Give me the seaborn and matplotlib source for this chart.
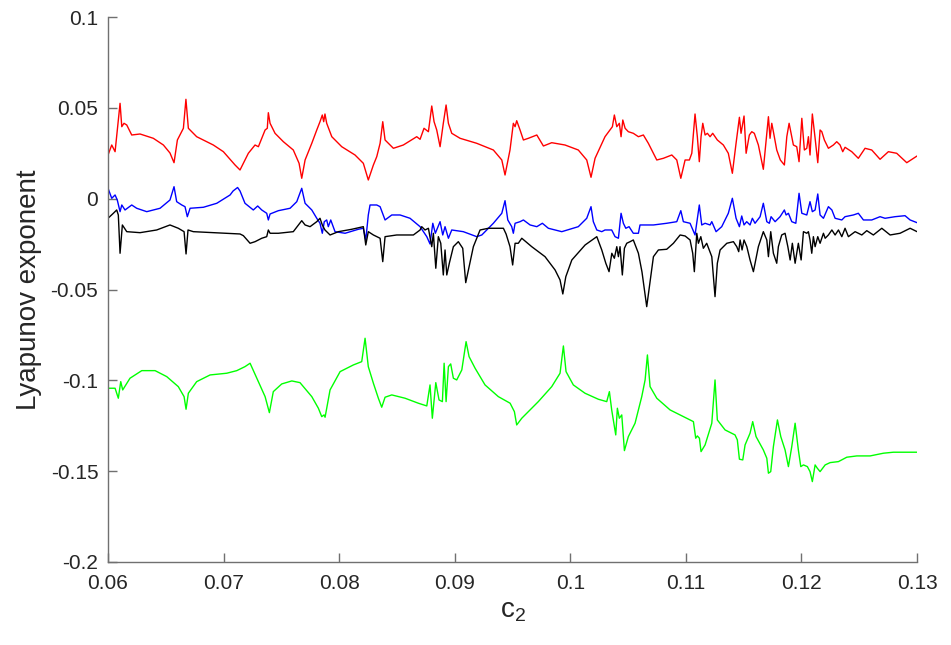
import numpy as np
import pandas as pd
import matplotlib
matplotlib.use("Agg")
import matplotlib.pyplot as plt
import seaborn as sns

# ---------------- data ----------------
red_x = [0.0600,0.06032,0.06061,0.06104,0.06119,0.06138,0.06162,0.06205,0.06277,0.06392,0.06479,0.06536,0.06571,0.06600,0.06652,0.06674,0.06695,0.06767,0.06911,0.06998,
         0.07099,0.07142,0.07214,0.07272,0.07301,0.07359,0.07378,0.07387,0.07402,0.07445,0.07517,0.07603,0.07653,0.07676,0.07705,0.07763,0.07806,0.07834,0.07854,0.07866,
         0.07877,0.07892,0.07936,0.08022,0.08137,0.08209,0.08252,0.08296,0.08325,0.08354,0.08377,0.08397,0.08469,0.08555,0.08671,0.08700,0.08734,0.08772,0.08801,0.08821,
         0.08844,0.08873,0.08901,0.08925,0.08945,0.08974,0.09046,0.09190,0.09334,0.09407,0.09435,0.09478,0.09507,0.09522,0.09536,0.09565,0.09594,0.09637,0.09710,0.09767,
         0.09839,0.09954,0.10069,0.10142,0.10179,0.10214,0.10300,0.10364,0.10381,0.10402,0.10424,0.10439,0.10454,0.10474,0.10502,0.10545,0.10589,0.10632,0.10675,0.10748,
         0.10805,0.10878,0.10921,0.10956,0.10993,0.11030,0.11051,0.11079,0.11099,0.11116,0.11131,0.11146,0.11166,0.11186,0.11209,0.11232,0.11272,0.11324,0.11367,0.11402,
         0.11434,0.11463,0.11477,0.11503,0.11521,0.11549,0.11570,0.11592,0.11627,0.11670,0.11694,0.11714,0.11728,0.11743,0.11757,0.11786,0.11817,0.11852,0.11873,0.11893,
         0.11910,0.11930,0.11959,0.11979,0.12003,0.12025,0.12046,0.12060,0.12074,0.12094,0.12118,0.12141,0.12161,0.12176,0.12198,0.12233,0.12276,0.12305,0.12334,0.12357,
         0.12377,0.12435,0.12492,0.12550,0.12608,0.12680,0.12752,0.12824,0.12911,0.13000]
red_y = [0.02405,0.02955,0.02587,0.05250,0.03963,0.04150,0.04056,0.03506,0.03561,0.03324,0.02955,0.02515,0.01981,0.03231,0.03875,0.05471,0.03875,0.03412,0.02955,0.02587,
         0.01855,0.01580,0.02499,0.02955,0.02862,0.03781,0.03875,0.04733,0.04150,0.03599,0.03137,0.02680,0.01948,0.01123,0.02130,0.03049,0.03781,0.04238,0.04606,0.04238,
         0.04662,0.04150,0.03412,0.02862,0.02405,0.01948,0.01029,0.01855,0.02312,0.03049,0.04238,0.03231,0.02774,0.02955,0.03412,0.03269,0.03875,0.03687,0.05102,0.04238,
         0.03781,0.02862,0.04150,0.05157,0.04150,0.03599,0.03324,0.03049,0.02680,0.02130,0.01304,0.02680,0.04150,0.03963,0.04293,0.03781,0.03231,0.03324,0.03506,0.02900,
         0.03082,0.02955,0.02680,0.02130,0.01178,0.02223,0.03412,0.03963,0.04606,0.03963,0.04150,0.03412,0.04331,0.03875,0.03687,0.03599,0.03412,0.03506,0.03049,0.02130,
         0.02223,0.02405,0.02130,0.01123,0.02130,0.02130,0.02499,0.04662,0.03412,0.02036,0.03412,0.04150,0.03506,0.03599,0.03412,0.03599,0.03231,0.02955,0.02499,0.01398,
         0.03049,0.04480,0.03599,0.04551,0.02499,0.03506,0.03687,0.03599,0.02955,0.01618,0.03231,0.04513,0.03324,0.04150,0.03687,0.02680,0.02130,0.01855,0.03412,0.04150,
         0.03599,0.02955,0.02862,0.02036,0.04425,0.02680,0.02774,0.03412,0.02405,0.04662,0.03324,0.01981,0.03781,0.03687,0.03231,0.02774,0.02955,0.03137,0.02955,0.02587,
         0.02829,0.02587,0.02223,0.02774,0.02680,0.02168,0.02587,0.02499,0.01981,0.02350]

blue_x = [0.0600,0.06032,0.06061,0.06080,0.06104,0.06119,0.06147,0.06205,0.06248,0.06335,0.06450,0.06536,0.06571,0.06594,0.06638,0.06666,0.06686,0.06710,0.06825,0.06941,
          0.07056,0.07082,0.07121,0.07142,0.07185,0.07257,0.07295,0.07330,0.07373,0.07387,0.07402,0.07474,0.07575,0.07633,0.07676,0.07705,0.07763,0.07806,0.07834,0.07854,
          0.07871,0.07892,0.07906,0.07927,0.07964,0.08051,0.08166,0.08209,0.08230,0.08252,0.08267,0.08325,0.08354,0.08397,0.08455,0.08527,0.08613,0.08700,0.08758,0.08786,
          0.08810,0.08832,0.08873,0.08896,0.08916,0.08945,0.08974,0.09074,0.09190,0.09234,0.09334,0.09407,0.09435,0.09459,0.09493,0.09507,0.09522,0.09565,0.09594,0.09652,
          0.09710,0.09758,0.09810,0.09926,0.10069,0.10142,0.10179,0.10199,0.10229,0.10272,0.10300,0.10358,0.10387,0.10416,0.10439,0.10459,0.10480,0.10508,0.10545,0.10589,
          0.10603,0.10647,0.10719,0.10834,0.10921,0.10956,0.10978,0.11036,0.11079,0.11116,0.11137,0.11166,0.11209,0.11224,0.11261,0.11310,0.11367,0.11402,0.11434,0.11463,
          0.11483,0.11503,0.11526,0.11555,0.11575,0.11598,0.11642,0.11670,0.11700,0.11722,0.11737,0.11772,0.11815,0.11852,0.11867,0.11887,0.11916,0.11951,0.11979,0.12003,
          0.12046,0.12074,0.12094,0.12118,0.12141,0.12161,0.12190,0.12233,0.12263,0.12291,0.12349,0.12377,0.12449,0.12492,0.12536,0.12608,0.12680,0.12723,0.12810,0.12896,
          0.12940,0.13000]
blue_y = [0.00572,0.00022,0.00204,-0.00072,-0.00715,-0.00347,-0.00622,-0.00347,-0.00528,-0.00715,-0.00528,-0.00072,0.00660,-0.00165,-0.00347,-0.00440,-0.00991,-0.00528,-0.00473,-0.00253,
          0.00204,0.00424,0.00616,0.00424,-0.00253,-0.00622,-0.00402,-0.00622,-0.00804,-0.01172,-0.00842,-0.00660,-0.00528,-0.00165,0.00572,-0.00253,-0.00622,-0.01079,-0.01354,-0.01904,
          -0.01266,-0.01172,-0.01541,-0.01172,-0.01816,-0.01904,-0.01684,-0.01629,-0.02273,-0.00897,-0.00347,-0.00347,-0.00440,-0.01172,-0.00897,-0.00897,-0.01079,-0.01541,-0.02091,-0.02493,
          -0.01354,-0.01904,-0.01266,-0.01998,-0.01541,-0.02179,-0.01723,-0.01816,-0.02091,-0.01998,-0.01354,-0.00804,-0.00110,-0.01172,-0.01541,-0.01904,-0.01354,-0.01266,-0.01172,-0.01447,
          -0.01541,-0.01354,-0.01629,-0.01816,-0.01541,-0.01079,-0.00440,-0.01266,-0.01723,-0.01816,-0.01723,-0.01723,-0.02091,-0.02179,-0.00804,-0.01354,-0.01629,-0.01541,-0.01904,-0.01904,
          -0.01447,-0.01447,-0.01447,-0.01354,-0.01266,-0.00660,-0.01266,-0.01354,-0.01998,-0.00347,-0.01447,-0.01354,-0.01447,-0.01266,-0.01816,-0.01541,-0.00804,0.00022,-0.01079,-0.01541,
          -0.00952,-0.01447,-0.01266,-0.01447,-0.01079,-0.01354,-0.00991,-0.00253,-0.01266,-0.01354,-0.00991,-0.01266,-0.00991,-0.00622,-0.00897,-0.00804,-0.01266,-0.01354,0.00297,-0.00804,
          -0.00897,-0.00165,-0.00715,-0.00622,0.00259,-0.00897,-0.01079,-0.00440,-0.00622,-0.01079,-0.01172,-0.00991,-0.00897,-0.00804,-0.01172,-0.01172,-0.00991,-0.01079,-0.00991,-0.00936,
          -0.01172,-0.01321]

black_x = [0.0600,0.06046,0.06075,0.06089,0.06104,0.06124,0.06162,0.06277,0.06421,0.06536,0.06608,0.06658,0.06675,0.06692,0.06738,0.06911,0.07142,0.07171,0.07229,0.07272,
           0.07330,0.07373,0.07387,0.07402,0.07474,0.07603,0.07676,0.07705,0.07748,0.07806,0.07834,0.07854,0.07877,0.07921,0.07993,0.08109,0.08209,0.08230,0.08252,0.08296,
           0.08354,0.08377,0.08397,0.08498,0.08642,0.08700,0.08714,0.08743,0.08772,0.08801,0.08815,0.08836,0.08858,0.08879,0.08901,0.08916,0.08931,0.08953,0.08988,0.09031,
           0.09069,0.09095,0.09118,0.09161,0.09219,0.09291,0.09421,0.09444,0.09478,0.09501,0.09522,0.09550,0.09580,0.09666,0.09781,0.09868,0.09911,0.09935,0.09961,0.10013,
           0.10128,0.10229,0.10272,0.10307,0.10335,0.10359,0.10381,0.10402,0.10416,0.10430,0.10450,0.10468,0.10488,0.10517,0.10545,0.10589,0.10620,0.10661,0.10684,0.10719,
           0.10762,0.10834,0.10892,0.10950,0.10993,0.11036,0.11059,0.11073,0.11094,0.11108,0.11129,0.11151,0.11180,0.11224,0.11252,0.11272,0.11296,0.11354,0.11411,0.11440,
           0.11457,0.11469,0.11486,0.11503,0.11527,0.11555,0.11584,0.11627,0.11670,0.11700,0.11714,0.11734,0.11757,0.11786,0.11800,0.11829,0.11858,0.11882,0.11902,0.11921,
           0.11945,0.11973,0.11997,0.12017,0.12046,0.12060,0.12074,0.12089,0.12103,0.12118,0.12141,0.12161,0.12190,0.12205,0.12233,0.12263,0.12291,0.12320,0.12349,0.12377,
           0.12406,0.12464,0.12522,0.12565,0.12622,0.12695,0.12767,0.12853,0.12940,0.13000]
black_y = [-0.01079,-0.00804,-0.00622,-0.00897,-0.03005,-0.01447,-0.01816,-0.01871,-0.01723,-0.01447,-0.01629,-0.01816,-0.03043,-0.01723,-0.01816,-0.01871,-0.01943,-0.02036,-0.02455,-0.02367,
           -0.02179,-0.02091,-0.01723,-0.01904,-0.01904,-0.01816,-0.01211,-0.01447,-0.01541,-0.01266,-0.01079,-0.01447,-0.01723,-0.01998,-0.01816,-0.01684,-0.01541,-0.02548,-0.01816,-0.01998,
           -0.02179,-0.03467,-0.02091,-0.01998,-0.01998,-0.01723,-0.01541,-0.01723,-0.01629,-0.02642,-0.01904,-0.03830,-0.02091,-0.02455,-0.04199,-0.02823,-0.04199,-0.03555,-0.02642,-0.02367,
           -0.02730,-0.04623,-0.03924,-0.02642,-0.01723,-0.01629,-0.01629,-0.01943,-0.02642,-0.03649,-0.02455,-0.02455,-0.02179,-0.02642,-0.03192,-0.03924,-0.04474,-0.05245,-0.04293,-0.03374,
           -0.02548,-0.02091,-0.02823,-0.03555,-0.04018,-0.03005,-0.03280,-0.02642,-0.03192,-0.02642,-0.04199,-0.02730,-0.02455,-0.02367,-0.02273,-0.03005,-0.04034,-0.05944,-0.04843,-0.03192,
           -0.02823,-0.02785,-0.02455,-0.01998,-0.02053,-0.02273,-0.03005,-0.04018,-0.01904,-0.02455,-0.02091,-0.02730,-0.02455,-0.03192,-0.05393,-0.03555,-0.02823,-0.02455,-0.02367,-0.02642,
           -0.02917,-0.02273,-0.02823,-0.02273,-0.02642,-0.03374,-0.04018,-0.02642,-0.01816,-0.02273,-0.03192,-0.01816,-0.03005,-0.03555,-0.02642,-0.01998,-0.01904,-0.02642,-0.03374,-0.02455,
           -0.03555,-0.02455,-0.03374,-0.01816,-0.01904,-0.01816,-0.02273,-0.03005,-0.02091,-0.02642,-0.02091,-0.02455,-0.01904,-0.02179,-0.01998,-0.01723,-0.01998,-0.01723,-0.02091,-0.01629,
           -0.02091,-0.01816,-0.01998,-0.01761,-0.01998,-0.01629,-0.01998,-0.01904,-0.01629,-0.01816]

green_x = [0.0600,0.06061,0.06089,0.06110,0.06127,0.06190,0.06292,0.06407,0.06508,0.06608,0.06658,0.06675,0.06695,0.06767,0.06883,0.07027,0.07114,0.07185,0.07229,0.07287,
           0.07359,0.07396,0.07430,0.07503,0.07590,0.07661,0.07763,0.07820,0.07849,0.07869,0.07878,0.07921,0.08008,0.08123,0.08195,0.08224,0.08252,0.08296,0.08339,0.08368,
           0.08397,0.08455,0.08570,0.08685,0.08758,0.08786,0.08806,0.08836,0.08864,0.08893,0.08908,0.08925,0.08945,0.08965,0.08988,0.09017,0.09061,0.09098,0.09124,0.09176,
           0.09262,0.09377,0.09479,0.09516,0.09536,0.09580,0.09723,0.09839,0.09911,0.09940,0.09963,0.10026,0.10127,0.10242,0.10315,0.10338,0.10358,0.10393,0.10407,0.10424,
           0.10445,0.10468,0.10502,0.10560,0.10618,0.10647,0.10667,0.10690,0.10748,0.10863,0.10978,0.11065,0.11085,0.11099,0.11117,0.11131,0.11166,0.11224,0.11252,0.11272,
           0.11339,0.11425,0.11445,0.11463,0.11492,0.11512,0.11555,0.11578,0.11607,0.11670,0.11700,0.11714,0.11734,0.11757,0.11792,0.11821,0.11858,0.11887,0.11916,0.11945,
           0.11973,0.11994,0.12017,0.12051,0.12074,0.12094,0.12118,0.12137,0.12161,0.12205,0.12248,0.12320,0.12392,0.12479,0.12594,0.12709,0.12795,0.13000]
green_y = [-0.10435,-0.10435,-0.10985,-0.10072,-0.10528,-0.09884,-0.09466,-0.09466,-0.09796,-0.10347,-0.10897,-0.11591,-0.10710,-0.10072,-0.09703,-0.09609,-0.09466,-0.09246,-0.09059,-0.09884,
           -0.10897,-0.11778,-0.10622,-0.10198,-0.10033,-0.10127,-0.10897,-0.11536,-0.11998,-0.11904,-0.12031,-0.10528,-0.09521,-0.09152,-0.08971,-0.07683,-0.09246,-0.10160,-0.10985,-0.11480,
           -0.10930,-0.10803,-0.10985,-0.11260,-0.11409,-0.10253,-0.12086,-0.10127,-0.11079,-0.11172,-0.09059,-0.11172,-0.09246,-0.09097,-0.09884,-0.09978,-0.09428,-0.07870,-0.08696,-0.09334,
           -0.10253,-0.10897,-0.11260,-0.11723,-0.12455,-0.12086,-0.11172,-0.10347,-0.09609,-0.08107,-0.09521,-0.10253,-0.10710,-0.11040,-0.11172,-0.10622,-0.11629,-0.13005,-0.11536,-0.12086,
           -0.11904,-0.13869,-0.13098,-0.12361,-0.10897,-0.09978,-0.08602,-0.10347,-0.10985,-0.11629,-0.11998,-0.12273,-0.13187,-0.13060,-0.13187,-0.13924,-0.13555,-0.12361,-0.09978,-0.12179,
           -0.12730,-0.13005,-0.13280,-0.14342,-0.14381,-0.13555,-0.12911,-0.12273,-0.13098,-0.13831,-0.14287,-0.15113,-0.15025,-0.13649,-0.12179,-0.13098,-0.13831,-0.14750,-0.13649,-0.12361,
           -0.13831,-0.14750,-0.14656,-0.14750,-0.15025,-0.15575,-0.14656,-0.14838,-0.15025,-0.14656,-0.14529,-0.14474,-0.14232,-0.14161,-0.14161,-0.14012,-0.13957,-0.13957]

x_ticks = [0.06, 0.07, 0.08, 0.09, 0.10, 0.11, 0.12, 0.13]
x_tick_labels = ["0.06", "0.07", "0.08", "0.09", "0.1", "0.11", "0.12", "0.13"]
y_ticks = [-0.2, -0.15, -0.1, -0.05, 0.0, 0.05, 0.1]
y_tick_labels = ["-0.2", "-0.15", "-0.1", "-0.05", "0", "0.05", "0.1"]

# ---------------- build long table ----------------
frames = []
for name, xs, ys in [("red", red_x, red_y), ("blue", blue_x, blue_y),
                     ("black", black_x, black_y), ("green", green_x, green_y)]:
    frames.append(pd.DataFrame({"c2": xs, "le": ys, "series": name}))
df = pd.concat(frames, ignore_index=True)

sns.set_theme(style="ticks")
plt.rcParams["font.family"] = ["Liberation Sans", "DejaVu Sans"]
plt.rcParams["axes.unicode_minus"] = False
plt.rcParams["mathtext.default"] = "regular"

fig = plt.figure(figsize=(9.51, 6.45), dpi=100)
ax = fig.add_axes([0.1136, 0.1287, 0.8507, 0.8449])

palette = {"red": "#ff0000", "blue": "#0000ff", "black": "#000000", "green": "#00ff00"}
for name in ["red", "blue", "black", "green"]:
    sub = df[df["series"] == name]
    sns.lineplot(data=sub, x="c2", y="le", color=palette[name], estimator=None,
                 sort=False, legend=False, linewidth=1.0, ax=ax)

ax.set_xlim(0.06, 0.13)
ax.set_ylim(-0.2, 0.1)
ax.set_xticks(x_ticks)
ax.set_xticklabels(x_tick_labels)
ax.set_yticks(y_ticks)
ax.set_yticklabels(y_tick_labels)

axis_gray = "#707070"
for side in ["top", "right"]:
    ax.spines[side].set_visible(False)
for side in ["left", "bottom"]:
    ax.spines[side].set_color(axis_gray)
    ax.spines[side].set_linewidth(1.0)
ax.tick_params(axis="both", direction="in", length=6.5, width=1.0, color=axis_gray,
               labelsize=15, labelcolor="#262626")
ax.tick_params(axis="x", pad=9)
ax.tick_params(axis="y", pad=7)

ax.set_xlabel("c$_2$", fontsize=20, color="#262626", labelpad=3)
ax.set_ylabel("Lyapunov exponent", fontsize=20, color="#262626", labelpad=6)

fig.savefig("out.png", dpi=100, facecolor="white")
